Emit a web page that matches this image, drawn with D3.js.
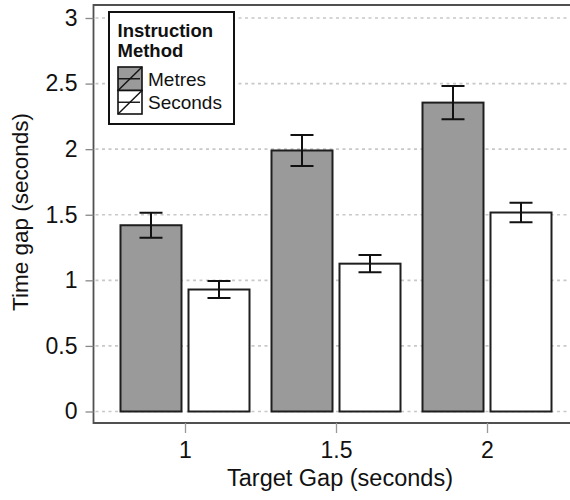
<!DOCTYPE html>
<html>
<head>
<meta charset="utf-8">
<script src="https://cdn.jsdelivr.net/npm/d3@7/dist/d3.min.js"></script>
<style>
  html, body { margin: 0; padding: 0; background: #fff; }
  svg { display: block; font-family: "Liberation Sans", Arial, sans-serif; }
</style>
</head>
<body>
<svg id="chart" width="570" height="500"></svg>
<script>
// Target gap conditions (seconds)
const targetGaps = [1, 1.5, 2];
// Instruction methods
const methods = ["Metres", "Seconds"];
// Mean time gap (seconds) per method, one value per target gap
const metresMean = [1.42, 1.99, 2.355];
const secondsMean = [0.93, 1.127, 1.517];
// Error bar half-widths
const metresErr = [0.095, 0.118, 0.127];
const secondsErr = [0.064, 0.066, 0.075];
// Axis ticks
const yTicks = [0, 0.5, 1, 1.5, 2, 2.5, 3];
const yTickLabels = ["0", "0.5", "1", "1.5", "2", "2.5", "3"];
const xTickLabels = ["1", "1.5", "2"];

const fills = { Metres: "#9a9a9a", Seconds: "#ffffff" };
const means = { Metres: metresMean, Seconds: secondsMean };
const errs = { Metres: metresErr, Seconds: secondsErr };

const svg = d3.select("#chart");
const FONT = "Liberation Sans, Arial, sans-serif";

const x = d3.scaleLinear().domain([1, 2]).range([185, 487]);
const y = d3.scaleLinear().domain([0, 3]).range([411.5, 18]);
const sub = d3.scaleBand().domain(methods).range([-64.5, 64.5]).paddingInner(0.103);

const frameLeft = 93.5, frameTop = 5, frameBottom = 423, frameRight = 572;

// dotted horizontal gridlines
svg.append("g")
  .selectAll("line")
  .data(yTicks)
  .join("line")
  .attr("x1", frameLeft + 2).attr("x2", frameRight)
  .attr("y1", d => y(d)).attr("y2", d => y(d))
  .attr("stroke", "#c8c8c8")
  .attr("stroke-width", 1.6)
  .attr("stroke-dasharray", "3,3.5");

// plot frame (left, top, bottom)
svg.append("path")
  .attr("d", `M${frameRight},${frameTop}H${frameLeft}V${frameBottom}H${frameRight}`)
  .attr("fill", "none")
  .attr("stroke", "#505050")
  .attr("stroke-width", 1.8);

// y axis ticks and labels
const yAxis = d3.axisLeft(y)
  .tickValues(yTicks)
  .tickFormat((d, i) => yTickLabels[i])
  .tickSize(8)
  .tickPadding(8);
const gy = svg.append("g").attr("transform", `translate(${frameLeft},0)`).call(yAxis);
gy.select(".domain").remove();
gy.selectAll(".tick line").attr("stroke", "#888").attr("stroke-width", 1.3);
gy.selectAll(".tick text")
  .attr("font-size", 23)
  .attr("fill", "#111")
  .attr("font-family", FONT);

// x axis ticks and labels
const xAxis = d3.axisBottom(x)
  .tickValues(targetGaps)
  .tickFormat((d, i) => xTickLabels[i])
  .tickSize(10)
  .tickPadding(9);
const gx = svg.append("g").attr("transform", `translate(0,${frameBottom})`).call(xAxis);
gx.select(".domain").remove();
gx.selectAll(".tick line").attr("stroke", "#999").attr("stroke-width", 1.3);
gx.selectAll(".tick text")
  .attr("font-size", 23)
  .attr("fill", "#111")
  .attr("font-family", FONT);

// bars
const barData = [];
targetGaps.forEach((g, i) => {
  methods.forEach(m => {
    barData.push({ gap: g, method: m, mean: means[m][i], err: errs[m][i] });
  });
});

svg.append("g")
  .selectAll("rect")
  .data(barData)
  .join("rect")
  .attr("x", d => x(d.gap) + sub(d.method))
  .attr("width", sub.bandwidth())
  .attr("y", d => y(d.mean))
  .attr("height", d => y(0) - y(d.mean))
  .attr("fill", d => fills[d.method])
  .attr("stroke", "#1e1e1e")
  .attr("stroke-width", 2);

// error bars
const capHalf = 11.5;
svg.append("g").attr("stroke", "#111").attr("stroke-width", 2).attr("fill", "none")
  .selectAll("path")
  .data(barData)
  .join("path")
  .attr("d", d => {
    const cx = x(d.gap) + sub(d.method) + sub.bandwidth() / 2;
    const yt = y(d.mean + d.err), yb = y(d.mean - d.err);
    return `M${cx - capHalf},${yt}H${cx + capHalf}M${cx},${yt}V${yb}M${cx - capHalf},${yb}H${cx + capHalf}`;
  });

// axis titles
svg.append("text")
  .attr("x", 340).attr("y", 486)
  .attr("text-anchor", "middle")
  .attr("font-size", 23.5)
  .attr("fill", "#111")
  .text("Target Gap (seconds)");

svg.append("text")
  .attr("transform", "translate(28,212) rotate(-90)")
  .attr("text-anchor", "middle")
  .attr("font-size", 22.5)
  .attr("fill", "#111")
  .text("Time gap (seconds)");

// legend
const lg = svg.append("g");
lg.append("rect")
  .attr("x", 109).attr("y", 12).attr("width", 125).attr("height", 112)
  .attr("fill", "#fff").attr("stroke", "#111").attr("stroke-width", 2);
lg.append("text").attr("x", 117.5).attr("y", 37)
  .attr("font-size", 18.5).attr("font-weight", "bold").attr("fill", "#111").text("Instruction");
lg.append("text").attr("x", 117.5).attr("y", 57)
  .attr("font-size", 18.5).attr("font-weight", "bold").attr("fill", "#111").text("Method");

const keyX = 118, keyW = 24, keyH = 23.5;
methods.forEach((m, i) => {
  const ky = 67 + i * keyH;
  const k = lg.append("g");
  k.append("rect")
    .attr("x", keyX).attr("y", ky).attr("width", keyW).attr("height", keyH)
    .attr("fill", fills[m]).attr("stroke", "#111").attr("stroke-width", 1.6);
  k.append("line")
    .attr("x1", keyX).attr("x2", keyX + keyW - 2)
    .attr("y1", ky + keyH / 2).attr("y2", ky + keyH / 2)
    .attr("stroke", "#111").attr("stroke-width", 1.4);
  k.append("line")
    .attr("x1", keyX).attr("y1", ky + keyH)
    .attr("x2", keyX + keyW).attr("y2", ky)
    .attr("stroke", "#111").attr("stroke-width", 1.4);
  k.append("text")
    .attr("x", 148).attr("y", ky + keyH / 2 + 7)
    .attr("font-size", 19).attr("fill", "#111").text(m);
});
</script>
</body>
</html>
